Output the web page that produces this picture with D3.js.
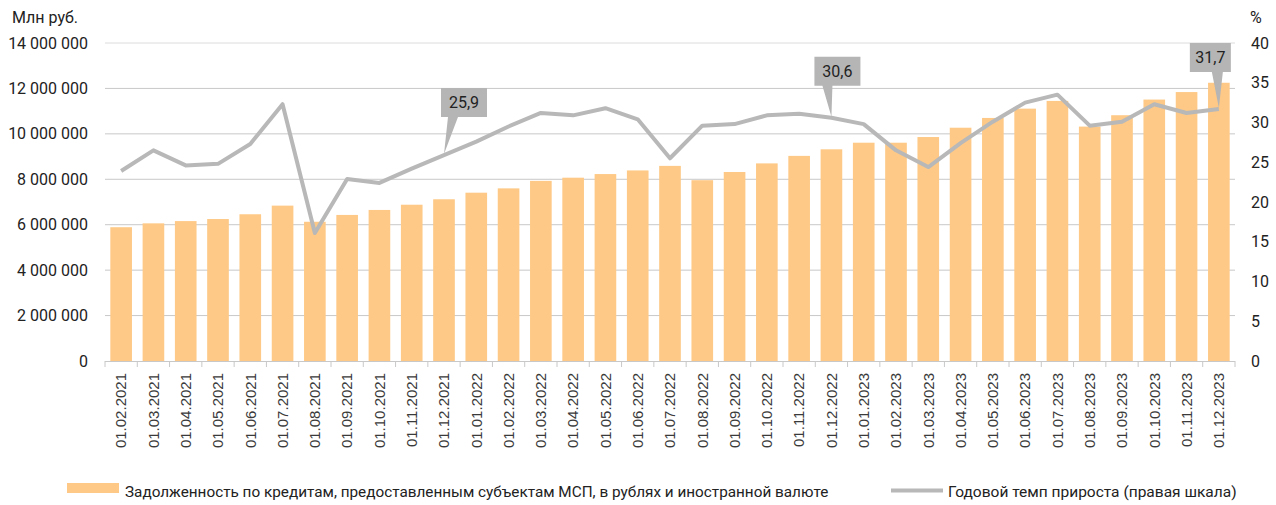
<!DOCTYPE html>
<html>
<head>
<meta charset="utf-8">
<script src="https://cdn.jsdelivr.net/npm/d3@7"></script>
<style>
  body { margin: 0; background: #fff; }
  svg text { font-family: Roboto, "Noto Sans", sans-serif; fill: #222; }
  .xlab { font-family: "Liberation Sans", Arial, sans-serif; font-size: 15px; fill: #3a3a3a; }
</style>
</head>
<body>
<svg id="chart"></svg>
<script>
var width = 1276, height = 505;

// data
var dates = ["01.02.2021","01.03.2021","01.04.2021","01.05.2021","01.06.2021","01.07.2021","01.08.2021",
  "01.09.2021","01.10.2021","01.11.2021","01.12.2021","01.01.2022","01.02.2022","01.03.2022","01.04.2022",
  "01.05.2022","01.06.2022","01.07.2022","01.08.2022","01.09.2022","01.10.2022","01.11.2022","01.12.2022",
  "01.01.2023","01.02.2023","01.03.2023","01.04.2023","01.05.2023","01.06.2023","01.07.2023","01.08.2023",
  "01.09.2023","01.10.2023","01.11.2023","01.12.2023"];
var debt = [5890000, 6060000, 6160000, 6250000, 6460000, 6840000, 6130000, 6430000, 6650000, 6880000,
  7120000, 7410000, 7600000, 7930000, 8070000, 8230000, 8390000, 8590000, 7960000, 8320000, 8700000,
  9030000, 9320000, 9610000, 9610000, 9860000, 10270000, 10700000, 11110000, 11450000, 10320000,
  10820000, 11510000, 11840000, 12250000];
var growth = [23.9, 26.5, 24.6, 24.8, 27.3, 32.3, 16.1, 22.9, 22.4, 24.2, 25.9, 27.6, 29.5, 31.2, 30.9,
  31.8, 30.4, 25.5, 29.6, 29.8, 30.9, 31.1, 30.6, 29.8, 26.5, 24.4, 27.4, 30.1, 32.5, 33.5, 29.6, 30.1,
  32.3, 31.2, 31.7];
var leftTicks = [0, 2000000, 4000000, 6000000, 8000000, 10000000, 12000000, 14000000];
var rightTicks = [0, 5, 10, 15, 20, 25, 30, 35, 40];
var callouts = [10, 22, 34];   // indexes of labelled points
var legendLabels = ["Задолженность по кредитам, предоставленным субъектам МСП, в рублях и иностранной валюте",
  "Годовой темп прироста (правая шкала)"];

var margin = {top: 43, right: 41, bottom: 144, left: 105};
var x0 = margin.left, x1 = width - margin.right;
var y0 = height - margin.bottom, y1 = margin.top;

var svg = d3.select("#chart").attr("width", width).attr("height", height);

var x = d3.scaleBand().domain(dates).range([x0, x1]).paddingInner(0.33).paddingOuter(0.165);
var yL = d3.scaleLinear().domain([0, 14000000]).range([y0, y1]);
var yR = d3.scaleLinear().domain([0, 40]).range([y0, y1]);

var loc = d3.formatLocale({decimal: ",", thousands: " ", grouping: [3], currency: ["", ""]});
var fmt = loc.format(",d");
var fmtPct = loc.format(".1f");

// gridlines
svg.append("g")
  .selectAll("line")
  .data(leftTicks.slice(1))
  .enter().append("line")
  .attr("x1", x0).attr("x2", x1)
  .attr("y1", d => yL(d)).attr("y2", d => yL(d))
  .attr("stroke", d => d == 14000000 ? "#dcdcdc" : "#c8c8c8")
  .attr("stroke-width", 1);

// left labels
svg.append("g")
  .selectAll("text")
  .data(leftTicks)
  .enter().append("text")
  .attr("x", 88).attr("y", d => yL(d))
  .attr("dy", "0.35em")
  .attr("text-anchor", "end")
  .style("font-size", "16px")
  .text(d => fmt(d));

// right labels
svg.append("g")
  .selectAll("text")
  .data(rightTicks)
  .enter().append("text")
  .attr("x", 1251).attr("y", d => yR(d))
  .attr("dy", "0.35em")
  .style("font-size", "16px")
  .text(d => d);

svg.append("text").attr("x", 12).attr("y", 23).style("font-size", "16px").text("Млн руб.");
svg.append("text").attr("x", 1250).attr("y", 23).style("font-size", "16px").text("%");

// bars
svg.append("g")
  .selectAll("rect")
  .data(dates)
  .enter().append("rect")
  .attr("x", d => x(d))
  .attr("width", x.bandwidth())
  .attr("y", (d, i) => yL(debt[i]))
  .attr("height", (d, i) => y0 - yL(debt[i]))
  .attr("fill", "#fec986");

// x axis line + ticks at band boundaries
svg.append("line")
  .attr("x1", x0).attr("x2", x1).attr("y1", y0 + 0.5).attr("y2", y0 + 0.5)
  .attr("stroke", "#c8c8c8");
svg.append("g")
  .selectAll("line")
  .data(d3.range(dates.length + 1))
  .enter().append("line")
  .attr("x1", i => x0 + i * x.step()).attr("x2", i => x0 + i * x.step())
  .attr("y1", y0).attr("y2", y0 + 6)
  .attr("stroke", "#c8c8c8");

// x labels
svg.append("g")
  .selectAll("text")
  .data(dates)
  .enter().append("text")
  .attr("class", "xlab")
  .attr("transform", d => `translate(${x(d) + x.bandwidth() / 2},${y0 + 12}) rotate(-90)`)
  .attr("dy", "0.35em")
  .attr("text-anchor", "end")
  .text(d => d);

// growth line
var line = d3.line()
  .x((d, i) => x(dates[i]) + x.bandwidth() / 2)
  .y(d => yR(d));
svg.append("path")
  .datum(growth)
  .attr("d", line)
  .attr("fill", "none")
  .attr("stroke", "#b8b8b8")
  .attr("stroke-width", 4)
  .attr("stroke-linejoin", "round");

// callouts: box offset relative to the point
var boxStyle = {
  10: {dx: -3, dy: -66, w: 46, b0: 4, b1: 14},
  22: {dx: -17, dy: -60, w: 46, b0: -9, b1: 1},
  34: {dx: -29, dy: -65, w: 41, b0: -7, b1: 4}
};
var cg = svg.append("g").selectAll("g")
  .data(callouts)
  .enter().append("g");
cg.append("path")
  .attr("d", i => {
    var px = x(dates[i]) + x.bandwidth() / 2, py = yR(growth[i]) - 1;
    var s = boxStyle[i], bx = px + s.dx, by = py + s.dy, h = 29;
    return `M${bx},${by}H${bx + s.w}V${by + h}H${px + s.b1}L${px},${py}L${px + s.b0},${by + h}H${bx}Z`;
  })
  .attr("fill", "#b5b5b5");
cg.append("text")
  .attr("x", i => x(dates[i]) + x.bandwidth() / 2 + boxStyle[i].dx + boxStyle[i].w / 2)
  .attr("y", i => yR(growth[i]) - 1 + boxStyle[i].dy + 14.5)
  .attr("dy", "0.35em")
  .attr("text-anchor", "middle")
  .style("font-size", "16px")
  .text(i => fmtPct(growth[i]));

// legend
var lg = svg.append("g");
lg.append("rect").attr("x", 67).attr("y", 483).attr("width", 52).attr("height", 10).attr("fill", "#fec986");
lg.append("text").attr("x", 125).attr("y", 497).style("font-size", "15.3px").text(legendLabels[0]);
lg.append("line").attr("x1", 891).attr("x2", 943).attr("y1", 490.5).attr("y2", 490.5)
  .attr("stroke", "#b8b8b8").attr("stroke-width", 4);
lg.append("text").attr("x", 948).attr("y", 497).style("font-size", "15.5px").text(legendLabels[1]);
</script>
</body>
</html>
